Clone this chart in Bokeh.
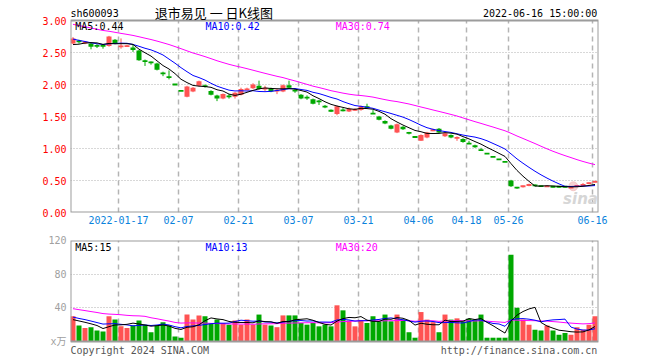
import numpy as np
from bokeh.plotting import figure
from bokeh.layouts import column
from bokeh.models import Range1d, FixedTicker, Label, ColumnDataSource, NumeralTickFormatter
from bokeh.embed import file_html
from bokeh.resources import INLINE

# ---------------- data ----------------
dates = [
    "2022-01-05", "2022-01-06", "2022-01-07", "2022-01-10", "2022-01-11", "2022-01-12", "2022-01-13",
    "2022-01-14", "2022-01-17", "2022-01-18", "2022-01-19", "2022-01-20", "2022-01-21", "2022-01-24",
    "2022-01-25", "2022-01-26", "2022-01-27", "2022-01-28",
    "2022-02-07", "2022-02-08", "2022-02-09", "2022-02-10", "2022-02-11", "2022-02-14", "2022-02-15",
    "2022-02-16", "2022-02-17", "2022-02-18", "2022-02-21", "2022-02-22", "2022-02-23", "2022-02-24",
    "2022-02-25", "2022-02-28",
    "2022-03-01", "2022-03-02", "2022-03-03", "2022-03-04", "2022-03-07", "2022-03-08", "2022-03-09",
    "2022-03-10", "2022-03-11", "2022-03-14", "2022-03-15", "2022-03-16", "2022-03-17", "2022-03-18",
    "2022-03-21", "2022-03-22", "2022-03-23", "2022-03-24", "2022-03-25", "2022-03-28", "2022-03-29",
    "2022-03-30", "2022-03-31",
    "2022-04-01", "2022-04-06", "2022-04-07", "2022-04-08", "2022-04-11", "2022-04-12", "2022-04-13",
    "2022-04-14", "2022-04-15", "2022-04-18", "2022-04-19", "2022-04-20", "2022-04-21", "2022-04-22",
    "2022-04-25", "2022-04-26",
    "2022-05-26", "2022-05-27", "2022-05-30", "2022-05-31",
    "2022-06-01", "2022-06-02", "2022-06-06", "2022-06-07", "2022-06-08", "2022-06-09", "2022-06-10",
    "2022-06-13", "2022-06-14", "2022-06-15", "2022-06-16",
]

open_ = [2.64, 2.68, 2.64, 2.64, 2.61, 2.61, 2.60, 2.70, 2.59, 2.60,
         2.58, 2.53, 2.37, 2.35, 2.33, 2.18, 2.12, 2.00, 1.90, 1.81,
         1.89, 1.98, 1.98, 1.90, 1.83, 1.78, 1.82, 1.81, 1.84, 1.92,
         1.94, 1.98, 1.93, 1.94, 1.90, 1.89, 1.99, 1.91, 1.84, 1.80,
         1.77, 1.74, 1.66, 1.60, 1.54, 1.60, 1.58, 1.60, 1.60, 1.65,
         1.55, 1.50, 1.43, 1.36, 1.25, 1.34, 1.25, 1.18, 1.12, 1.17,
         1.28, 1.31, 1.19, 1.21, 1.16, 1.15, 1.08, 1.04, 0.98, 0.92,
         0.87, 0.83, 0.79, 0.50, 0.39, 0.40, 0.43, 0.43, 0.415, 0.405,
         0.405, 0.405, 0.405, 0.385, 0.41, 0.42, 0.455, 0.475]
high = [2.74, 2.70, 2.68, 2.65, 2.63, 2.63, 2.76, 2.71, 2.72, 2.62,
        2.62, 2.54, 2.39, 2.36, 2.34, 2.20, 2.22, 2.00, 1.90, 1.98,
        1.96, 2.06, 2.00, 1.91, 1.84, 1.86, 1.85, 1.88, 1.95, 1.95,
        2.02, 2.06, 1.98, 1.95, 1.93, 2.00, 2.06, 1.93, 1.85, 1.83,
        1.78, 1.76, 1.68, 1.61, 1.67, 1.63, 1.64, 1.63, 1.67, 1.70,
        1.60, 1.51, 1.44, 1.37, 1.39, 1.35, 1.26, 1.18, 1.22, 1.26,
        1.31, 1.32, 1.25, 1.22, 1.19, 1.16, 1.12, 1.06, 1.01, 0.92,
        0.87, 0.83, 0.79, 0.51, 0.40, 0.42, 0.45, 0.44, 0.42, 0.42,
        0.41, 0.41, 0.41, 0.40, 0.43, 0.46, 0.47, 0.50]
low = [2.63, 2.64, 2.63, 2.55, 2.57, 2.56, 2.59, 2.63, 2.56, 2.59,
       2.51, 2.37, 2.29, 2.31, 2.22, 2.13, 2.08, 2.00, 1.90, 1.80,
       1.88, 1.97, 1.95, 1.83, 1.74, 1.77, 1.78, 1.78, 1.83, 1.91,
       1.93, 1.92, 1.90, 1.88, 1.85, 1.88, 1.94, 1.87, 1.77, 1.76,
       1.69, 1.68, 1.63, 1.57, 1.52, 1.58, 1.57, 1.59, 1.59, 1.63,
       1.54, 1.44, 1.38, 1.30, 1.24, 1.29, 1.22, 1.18, 1.12, 1.16,
       1.27, 1.24, 1.18, 1.16, 1.12, 1.09, 1.07, 1.01, 0.97, 0.92,
       0.87, 0.83, 0.79, 0.40, 0.37, 0.39, 0.41, 0.41, 0.40, 0.40,
       0.39, 0.39, 0.39, 0.38, 0.40, 0.42, 0.44, 0.47]
close = [2.72, 2.67, 2.67, 2.59, 2.60, 2.60, 2.75, 2.64, 2.60, 2.60,
         2.54, 2.38, 2.36, 2.34, 2.23, 2.17, 2.11, 2.00, 1.90, 1.97,
         1.95, 2.05, 1.97, 1.84, 1.78, 1.85, 1.81, 1.87, 1.93, 1.93,
         2.00, 1.93, 1.94, 1.89, 1.91, 1.99, 1.95, 1.90, 1.78, 1.79,
         1.70, 1.73, 1.65, 1.58, 1.66, 1.59, 1.62, 1.61, 1.66, 1.64,
         1.54, 1.45, 1.39, 1.31, 1.38, 1.30, 1.24, 1.18, 1.21, 1.25,
         1.29, 1.25, 1.24, 1.17, 1.17, 1.10, 1.07, 1.03, 0.97, 0.92,
         0.87, 0.83, 0.79, 0.41, 0.385, 0.42, 0.43, 0.42, 0.41, 0.41,
         0.40, 0.40, 0.40, 0.39, 0.42, 0.44, 0.46, 0.48]
volume = [30, 19, 16, 17, 13, 12, 30, 26, 18, 16,
          19, 25, 20, 11, 19, 23, 19, 6, 4.5, 32,
          26, 31, 30, 21, 26, 22, 20, 25, 20, 26,
          20, 32, 20, 19, 17, 31, 31, 31, 22, 20,
          22, 18, 20, 18, 43, 37, 25, 18, 25, 22,
          30, 24, 32, 24, 32, 26, 11, 4.5, 35, 26,
          23, 11, 32, 26, 27.5, 24, 27, 26, 32, 4.5,
          4.5, 4.5, 4.5, 103, 40, 26, 20, 14, 13, 19,
          13, 8, 10, 8, 17, 14, 20, 30]

# closes / volumes of the 29 sessions before the window (estimated from MA line starts)
prior_close = [3.25, 3.22, 3.18, 3.20, 3.15, 3.12, 3.14, 3.10,
               3.06, 3.04, 3.00, 3.02, 2.98, 2.96, 2.97, 2.93, 2.95, 2.89,
               2.98, 2.96, 2.88, 2.84, 2.79, 2.76, 2.71, 2.64, 2.58, 2.56, 2.62]
prior_volume = [55, 48, 52, 46, 51, 48, 36, 31, 38, 33, 30, 36,
                62, 55, 66, 58, 54, 28, 25, 28, 35, 30, 34, 31, 30, 27, 24, 26, 23]

tick_dates = ["2022-01-17", "2022-02-07", "2022-02-21", "2022-03-07", "2022-03-21",
              "2022-04-06", "2022-04-18", "2022-05-26", "2022-06-16"]
tick_labels = ["2022-01-17", "02-07", "02-21", "03-07", "03-21", "04-06", "04-18", "05-26", "06-16"]
price_ticks = [0.0, 0.5, 1.0, 1.5, 2.0, 2.5, 3.0]
volume_ticks = [40, 80, 120]

stock_code = "sh600093"
title_text = "退市易见 一 日K线图"
time_text = "2022-06-16 15:00:00"
price_ma_text = ["MA5:0.44", "MA10:0.42", "MA30:0.74"]
volume_ma_text = ["MA5:15", "MA10:13", "MA30:20"]
volume_unit = "x万"
copyright_text = "Copyright 2024 SINA.COM"
url_text = "http://finance.sina.com.cn"

# ---------------- derived ----------------
N = len(dates)
RED, GREEN = "#ff5353", "#00a800"
MA_COLORS = ["#000000", "#0000ff", "#ff00ff"]
BORDER = "#9c9c9c"
MONO = "DejaVu Sans Mono"
PRICE_MAX = price_ticks[-1]
VOL_MAX = volume_ticks[-1]
PX_PER_PRICE = 64.0          # 0.50 per 32 px
PX_PER_VOL = 101.0 / VOL_MAX


def moving_average(vals, prior, n):
    full = np.array(list(prior) + list(vals), dtype=float)
    out = np.convolve(full, np.ones(n) / n, mode="valid")
    return out[-len(vals):]


colors = []
for i in range(N):
    o, c = open_[i], close[i]
    pc = close[i - 1] if i > 0 else prior_close[-1]
    if c > o or (c == o and c >= pc):
        colors.append(RED)
    else:
        colors.append(GREEN)

xc = [i + 5.0 / 12.0 for i in range(N)]
body_w = 5.0 / 6.0
min_body = 0.028
tops, bots = [], []
for o, c in zip(open_, close):
    t, b = max(o, c), min(o, c)
    if t - b < min_body:
        m = (t + b) / 2
        t, b = m + min_body / 2, m - min_body / 2
    tops.append(t)
    bots.append(b)

src = ColumnDataSource(dict(x=xc, top=tops, bottom=bots, high=high, low=low,
                            color=colors, vol=volume))
tick_pos = [dates.index(d) for d in tick_dates]


def style(p, ymax):
    p.background_fill_color = "white"
    p.border_fill_color = "white"
    p.outline_line_color = None
    p.xgrid.visible = False
    p.ygrid.grid_line_color = "#b0b0b0"
    p.ygrid.grid_line_dash = "1 2"
    p.ygrid.grid_line_width = 1
    # vertical dashed date lines, limited to the panel box
    p.segment(x0=tick_pos, x1=tick_pos, y0=[0] * len(tick_pos), y1=[ymax] * len(tick_pos),
              line_color="#b4b4b4", line_dash="5 4", line_width=1.5)
    for ax in p.yaxis:
        ax.axis_line_color = None
        ax.major_tick_line_color = None
        ax.minor_tick_line_color = None
        ax.major_tick_out = 0
        ax.minor_tick_out = 0
        ax.major_label_text_font = MONO + ", Noto Sans CJK SC"
        ax.major_label_text_font_size = "10px"
        ax.major_label_standoff = 4


def box(p, ymax):
    p.quad(left=[0], right=[N], bottom=[0], top=[ymax], fill_color=None,
           line_color=BORDER, line_width=2)


def label(p, x, y, text, align, color, font=MONO, size="10px", style_="normal"):
    p.add_layout(Label(x=x, y=y, text=text, text_align=align, text_baseline="middle",
                       text_font=font, text_font_size=size, text_color=color,
                       text_font_style=style_))


# ---------------- price panel ----------------
p1 = figure(width=660, height=232, x_range=Range1d(0, N),
            y_range=Range1d(0, PRICE_MAX + 20 / PX_PER_PRICE),
            output_backend="svg", toolbar_location=None,
            min_border_left=70, min_border_right=62, min_border_top=0, min_border_bottom=20)
style(p1, PRICE_MAX)
p1.yaxis.ticker = FixedTicker(ticks=price_ticks)
p1.yaxis.formatter = NumeralTickFormatter(format="0.00")
p1.yaxis.major_label_text_color = "#ff0000"
p1.ygrid.ticker = FixedTicker(ticks=price_ticks[1:-1])
p1.xaxis.ticker = FixedTicker(ticks=tick_pos)
p1.xaxis.major_label_overrides = {pos: lab for pos, lab in zip(tick_pos, tick_labels)}
p1.xaxis.axis_line_color = None
p1.xaxis.major_tick_line_color = None
p1.xaxis.minor_tick_line_color = None
p1.xaxis.major_tick_out = 0
p1.xaxis.minor_tick_out = 0
p1.xaxis.major_label_text_color = "#0a82dc"
p1.xaxis.major_label_text_font = MONO
p1.xaxis.major_label_text_font_size = "10px"
p1.xaxis.major_label_standoff = 3

# watermark
p1.scatter([83.8], [0.41], size=9, color="#f2b4b4", alpha=0.6)
label(p1, 85.0, 0.21, "sina", "center", "#d6d6d6", font="DejaVu Sans", size="15px",
      style_="bold italic")

p1.segment(x0="x", x1="x", y0="low", y1="high", color="color", line_width=1, source=src)
p1.vbar(x="x", width=body_w, top="top", bottom="bottom", fill_color="color",
        line_color=None, source=src)

for n, col in zip([30, 10, 5], MA_COLORS[::-1]):
    p1.line(xc, moving_average(close, prior_close, n), line_color=col, line_width=1)
box(p1, PRICE_MAX)

for txt, xx, col in zip(price_ma_text, [0.8, 22.5, 44.2], MA_COLORS):
    label(p1, xx, PRICE_MAX - 6 / PX_PER_PRICE, txt, "left", col)

head_y = PRICE_MAX + 7.5 / PX_PER_PRICE
label(p1, 0.0, head_y, stock_code, "left", "#000000")
label(p1, 23.9, head_y + 0.015, title_text, "center", "#000000", font="Noto Sans CJK SC", size="13px")
label(p1, 87.8, head_y, time_text, "right", "#000000")

# ---------------- volume panel ----------------
p2 = figure(width=660, height=128, x_range=p1.x_range,
            y_range=Range1d(-19 / PX_PER_VOL, VOL_MAX),
            output_backend="svg", toolbar_location=None,
            min_border_left=70, min_border_right=62, min_border_top=8, min_border_bottom=0)
style(p2, VOL_MAX)
p2.xaxis.visible = False
p2.yaxis.ticker = FixedTicker(ticks=[0] + volume_ticks)
p2.yaxis.major_label_overrides = {0: volume_unit}
p2.yaxis.major_label_text_color = "#a0a0a0"
p2.ygrid.ticker = FixedTicker(ticks=volume_ticks[:-1])

p2.vbar(x="x", width=body_w, top="vol", bottom=0, fill_color="color", line_color=None, source=src)
for n, col in zip([30, 10, 5], MA_COLORS[::-1]):
    p2.line(xc, moving_average(volume, prior_volume, n), line_color=col, line_width=1)
box(p2, VOL_MAX)

for txt, xx, col in zip(volume_ma_text, [0.8, 22.5, 44.2], MA_COLORS):
    label(p2, xx, VOL_MAX - 6.5 / PX_PER_VOL, txt, "left", col)
foot_y = -8.5 / PX_PER_VOL
label(p2, 0.0, foot_y, copyright_text, "left", "#555555")
label(p2, 87.8, foot_y, url_text, "right", "#555555")

layout = column(p1, p2, spacing=0)
open("out.html", "w").write(file_html(layout, INLINE))
